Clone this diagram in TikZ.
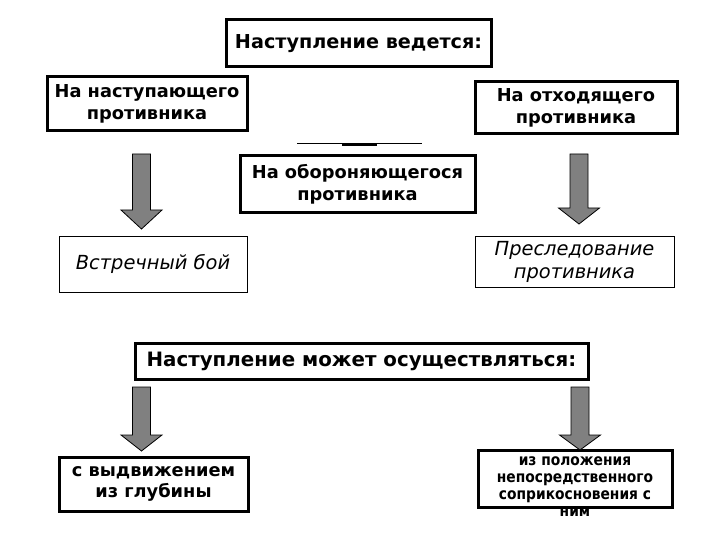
\documentclass[tikz,border=0pt]{standalone}
\usepackage{fontspec}
\setmainfont{DejaVu Sans}
\newfontfamily\narrowfont[FakeStretch=0.88]{DejaVu Sans}
\begin{document}
\begin{tikzpicture}[x=1pt,y=-1pt,
  thickbox/.style={draw, line width=3pt, align=center, inner sep=0pt,
    font=\bfseries\fontsize{17.8}{21.5}\selectfont},
  thinbox/.style={draw, line width=0.9pt, align=center, inner sep=0pt,
    font=\itshape\fontsize{19.4}{23}\selectfont},
  arrowfill/.style={draw=black, line width=0.8pt, fill=black!50}]
\useasboundingbox (0,0) rectangle (720,540);
\fill[white] (0,0) rectangle (720,540);

\node[thickbox, minimum width=265pt, minimum height=47pt,
  font=\bfseries\fontsize{19.2}{23}\selectfont] (title) at (358.5,43.5) {Наступление ведется:};
\node[thickbox, minimum width=200pt, minimum height=54pt] (adv) at (147,104) {На наступающего\\противника};
\node[thickbox, minimum width=202pt, minimum height=52pt] (retr) at (576,108) {На отходящего\\противника};
\node[thickbox, minimum width=235pt, minimum height=57pt] (def) at (357.5,184.5) {На обороняющегося\\противника};

\draw[line width=0.8pt] (297,143.5) -- (422,143.5);
\draw[line width=2.4pt] (342,144.5) -- (377,144.5);

\node[thinbox, minimum width=188pt, minimum height=56pt] (meet) at (153,264) {Встречный бой};
\node[thinbox, minimum width=199pt, minimum height=51pt] (purs) at (574.5,261.5) {Преследование\\противника};

\node[thickbox, minimum width=453pt, minimum height=36pt,
  font=\bfseries\fontsize{19.8}{23}\selectfont] (may) at (361.5,361) {Наступление может осуществляться:};

\node[thickbox, minimum width=189pt, minimum height=54pt] (depth) at (153.5,484) {с выдвижением\\из глубины};
\node[draw, line width=3pt, minimum width=194pt, minimum height=57pt] (contact) at (575,478.5) {};
\begin{scope}
\clip (470,440) rectangle (690,518.5);
\node[align=center, inner sep=0pt, anchor=north,
  font=\narrowfont\bfseries\fontsize{15.7}{17}\selectfont] (contacttext) at (575,456.5)
  {из положения\\непосредственного\\соприкосновения с\\ним};
\end{scope}

\newcommand\blockarr[4]{%
  \draw[arrowfill] ({#1-9},#2) -- ({#1+9},#2) -- ({#1+9},#3) -- ({#1+20.5},#3)
    -- (#1,#4) -- ({#1-20.5},#3) -- ({#1-9},#3) -- cycle;}
\blockarr{141.5}{154}{210}{229}
\blockarr{579}{154}{208}{224}
\blockarr{141.5}{387}{435}{451}
\blockarr{580}{387}{435}{450}
\end{tikzpicture}
\end{document}
